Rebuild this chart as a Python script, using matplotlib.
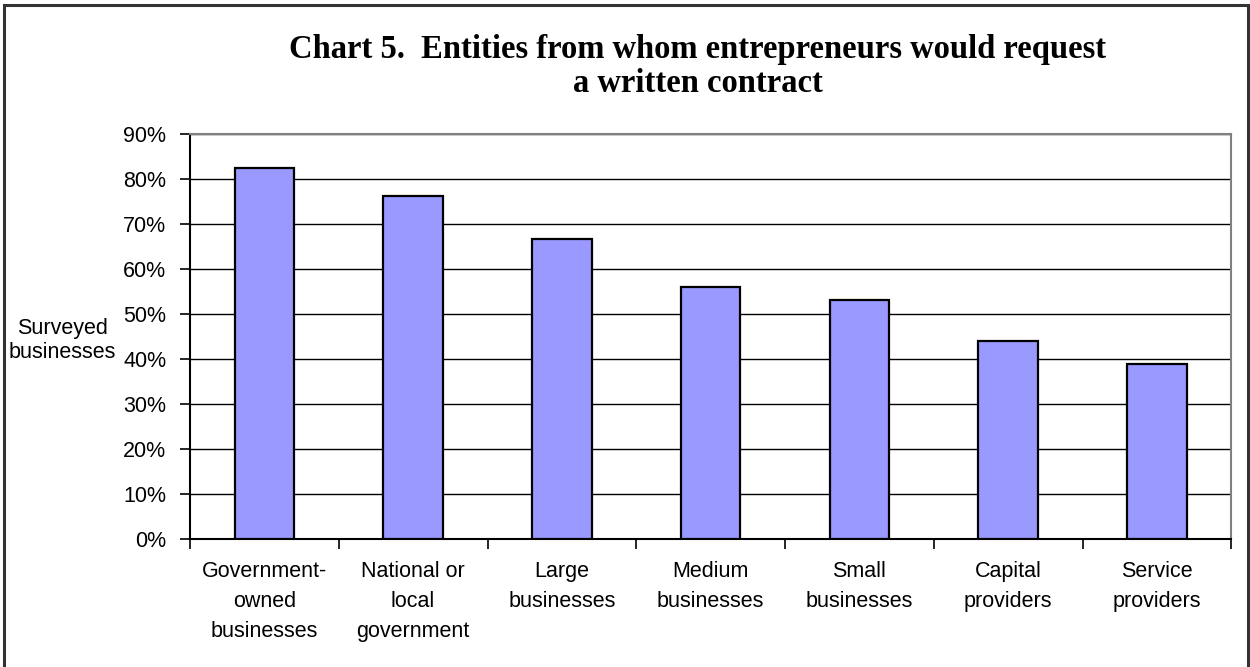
import matplotlib
matplotlib.use('Agg')
import matplotlib.pyplot as plt
import numpy as np
from matplotlib.patches import Rectangle

# ── Data ──────────────────────────────────────────────────────────────────────
categories = [
    'Government-\nowned\nbusinesses',
    'National or\nlocal\ngovernment',
    'Large\nbusinesses',
    'Medium\nbusinesses',
    'Small\nbusinesses',
    'Capital\nproviders',
    'Service\nproviders',
]
share = [82.4, 76.2, 66.7, 56.0, 53.1, 44.1, 38.8]   # % of surveyed businesses
yticks = [0, 10, 20, 30, 40, 50, 60, 70, 80, 90]

plt.rcParams['font.family'] = ['Liberation Sans', 'DejaVu Sans']

fig = plt.figure(figsize=(12.5, 6.67), dpi=100)
ax = fig.add_axes([0.152, 0.192, 0.833, 0.607])

x = np.arange(len(categories))
ax.bar(x, share, width=0.40, color='#9999FF', edgecolor='black',
       linewidth=1.6, zorder=3)

ax.set_xlim(-0.5, len(categories) - 0.5)
ax.set_ylim(0, 90)
ax.set_yticks(yticks)
ax.set_yticklabels([f'{v}%' for v in yticks])
ax.yaxis.grid(True, color='black', linewidth=1.0, zorder=0)

# category separators as major ticks, labels sit on minor ticks
ax.set_xticks(np.arange(len(categories) + 1) - 0.5)
ax.set_xticklabels([])
ax.set_xticks(x, minor=True)
ax.set_xticklabels(categories, minor=True, fontsize=15.5, linespacing=1.55)
ax.tick_params(axis='x', which='major', length=7, width=1.2, direction='out')
ax.tick_params(axis='x', which='minor', length=0, pad=16)
ax.tick_params(axis='y', length=7, width=1.2, direction='out', pad=10,
               labelsize=15.5)

for side in ['left', 'bottom']:
    ax.spines[side].set_color('black')
    ax.spines[side].set_linewidth(1.5)
for side in ['top', 'right']:
    ax.spines[side].set_color('#808080')
    ax.spines[side].set_linewidth(1.5)

fig.text(0.05, 0.49, 'Surveyed\nbusinesses', ha='center', va='center',
         fontsize=15.5, linespacing=1.2)

fig.text(0.558, 0.9, 'Chart 5.  Entities from whom entrepreneurs would request\na written contract',
         ha='center', va='center', fontsize=23.5, fontweight='bold',
         family=['Liberation Serif', 'DejaVu Serif'], linespacing=1.15)

# outer frame around the chart
fig.patches.append(Rectangle((0.003, -0.02), 0.995, 1.013, transform=fig.transFigure,
                             fill=False, edgecolor='#333333', linewidth=2.2))

fig.savefig('out.png', dpi=100)
